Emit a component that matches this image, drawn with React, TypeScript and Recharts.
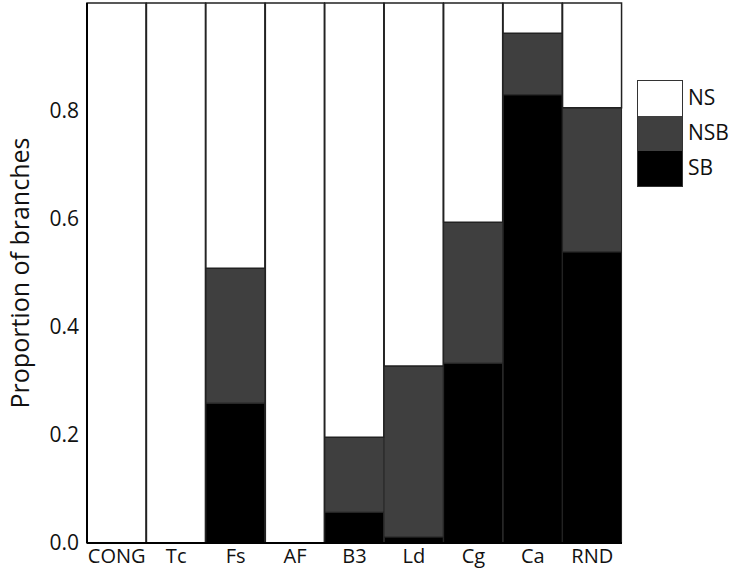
import React from 'react';
import { BarChart, Bar, XAxis, YAxis } from 'recharts';

const categories = ['CONG', 'Tc', 'Fs', 'AF', 'B3', 'Ld', 'Cg', 'Ca', 'RND'];
const sbValues = [0, 0, 0.259, 0, 0.057, 0.011, 0.333, 0.83, 0.539];
const nsbValues = [0, 0, 0.25, 0, 0.139, 0.317, 0.261, 0.114, 0.267];
const nsValues = [1, 1, 0.491, 1, 0.804, 0.672, 0.406, 0.056, 0.194];
const yTicks = [0, 0.2, 0.4, 0.6, 0.8];

const seriesInfo = [
  { key: 'NS', color: '#ffffff' },
  { key: 'NSB', color: '#3f3f3f' },
  { key: 'SB', color: '#000000' },
];

const data = categories.map((name, i) => ({
  name,
  SB: sbValues[i],
  NSB: nsbValues[i],
  NS: nsValues[i],
}));

const font = '"Open Sans", sans-serif';

// legend drawn as a plain overlay so it does not eat plot space
const LegendBox = () => (
  <div style={{ position: 'absolute', left: 637, top: 80, display: 'flex', fontFamily: font }}>
    <div style={{ border: '1px solid #333', width: 44 }}>
      {seriesInfo.map((s) => (
        <div key={s.key} style={{ height: 35, background: s.color }} />
      ))}
    </div>
    <div style={{ marginLeft: 5 }}>
      {seriesInfo.map((s) => (
        <div key={s.key} style={{ height: 35, lineHeight: '35px', fontSize: 21, color: '#111' }}>
          {s.key}
        </div>
      ))}
    </div>
  </div>
);

export default function App() {
  return (
    <div style={{ position: 'absolute', left: 0, top: 0, width: 731, height: 578, background: '#fff' }}>
      <BarChart
        width={731}
        height={578}
        data={data}
        margin={{ top: 3, right: 109, left: 0, bottom: 0 }}
        barCategoryGap={0}
      >
        <XAxis
          dataKey="name"
          height={35}
          axisLine={{ stroke: '#000', strokeWidth: 2 }}
          tickLine={false}
          tickMargin={0}
          tick={{ fill: '#111', fontSize: 20, fontFamily: font }}
          interval={0}
        />
        <YAxis
          width={87}
          domain={[0, 1]}
          ticks={yTicks}
          axisLine={{ stroke: '#000', strokeWidth: 2 }}
          tickLine={false}
          tickFormatter={(v: number) => v.toFixed(1)}
          tick={{ fill: '#111', fontSize: 21, fontFamily: font }}
          label={{
            value: 'Proportion of branches',
            angle: -90,
            position: 'insideLeft',
            offset: 20,
            style: { textAnchor: 'middle', fontSize: 25, fontFamily: font, fill: '#111' },
          }}
        />
        <Bar dataKey="SB" stackId="a" fill="#000000" stroke="#222" strokeWidth={1} isAnimationActive={false} />
        <Bar dataKey="NSB" stackId="a" fill="#3f3f3f" stroke="#222" strokeWidth={1} isAnimationActive={false} />
        <Bar dataKey="NS" stackId="a" fill="#ffffff" stroke="#222" strokeWidth={1.5} isAnimationActive={false} />
      </BarChart>
      <LegendBox />
    </div>
  );
}
